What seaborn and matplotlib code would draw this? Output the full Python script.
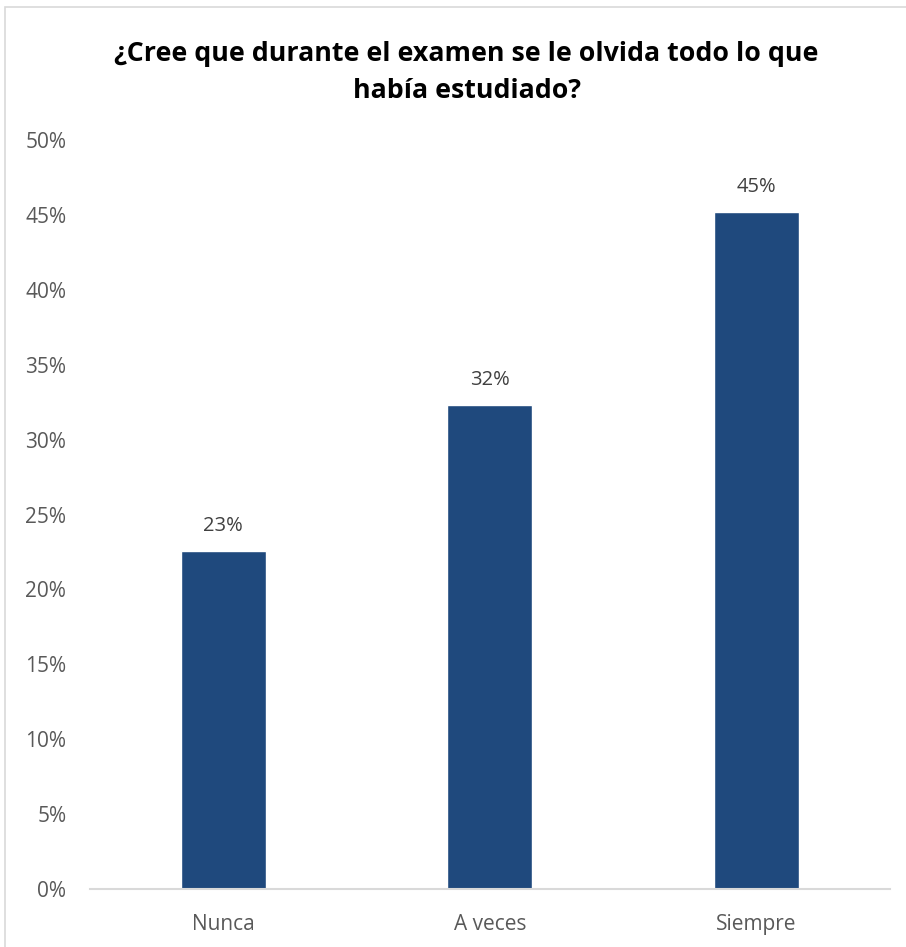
import matplotlib
matplotlib.use("Agg")
import matplotlib.pyplot as plt
import matplotlib.patches as patches
from matplotlib.ticker import PercentFormatter
import pandas as pd
import seaborn as sns

## data
categories = ["Nunca", "A veces", "Siempre"]
values = [22.6, 32.3, 45.2]
labels = ["23%", "32%", "45%"]
title_lines = ["¿Cree que durante el examen se le olvida todo lo que", "había estudiado?"]

BAR_COLOR = "#1F497D"
TEXT_COLOR = "#595959"

sns.set_style("white")
plt.rcParams["font.family"] = ["Open Sans", "DejaVu Sans"]

my_df = pd.DataFrame({"cat": categories, "val": values})

my_figure = plt.figure(figsize=(9.06, 9.47), dpi=100)
my_axes = my_figure.add_axes([0.0993, 0.0612, 0.8827, 0.7908])

sns.barplot(data=my_df, x="cat", y="val", color=BAR_COLOR, width=0.32,
            saturation=1, ax=my_axes)

# labels above the bars
for bar, lab in zip(my_axes.patches, labels):
    my_axes.text(bar.get_x() + bar.get_width() / 2, bar.get_height() + 1.0, lab,
                 ha="center", va="bottom", fontsize=14.5, color="#404040")

my_axes.set_ylim(0, 50)
my_axes.set_xlim(-0.5, 2.5)
my_axes.set_yticks(range(0, 51, 5))
my_axes.yaxis.set_major_formatter(PercentFormatter(decimals=0))
my_axes.set_xlabel("")
my_axes.set_ylabel("")
my_axes.tick_params(axis="both", length=0, labelsize=15, colors=TEXT_COLOR)
my_axes.tick_params(axis="y", pad=17)
my_axes.tick_params(axis="x", pad=18)
for side in ["left", "right", "top"]:
    my_axes.spines[side].set_visible(False)
my_axes.spines["bottom"].set_color("#D9D9D9")
my_axes.spines["bottom"].set_linewidth(1.5)

# title, two centred lines
my_figure.text(0.515, 0.943, title_lines[0], ha="center", va="center",
               fontsize=19.3, fontweight="bold", color="black")
my_figure.text(0.515, 0.904, title_lines[1], ha="center", va="center",
               fontsize=19.3, fontweight="bold", color="black")

# light frame round the chart area
my_figure.patches.append(patches.Rectangle((5 / 906, -0.01), 1.0, 1 - 7 / 947 + 0.01,
                                           transform=my_figure.transFigure,
                                           fill=False, edgecolor="#D9D9D9", linewidth=1.2))

my_figure.savefig("out.png", dpi=100)
